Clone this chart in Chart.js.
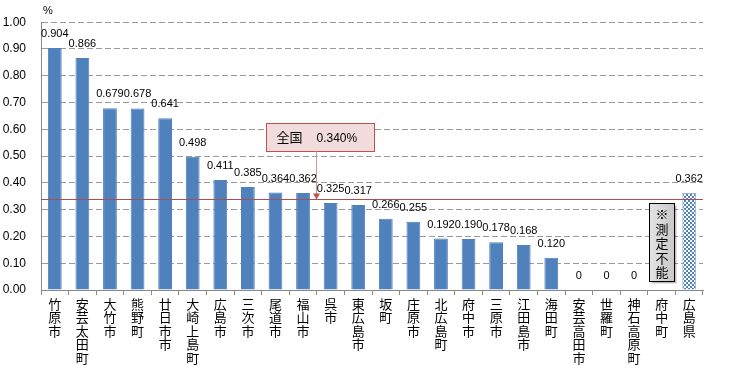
<!DOCTYPE html>
<html>
<head>
<meta charset="utf-8">
<script src="https://cdn.jsdelivr.net/npm/chart.js@4/dist/chart.umd.min.js"></script>
<style>
  body { margin: 0; background: #fff; }
  #wrap { width: 734px; height: 371px; }
</style>
</head>
<body>
<div id="wrap"><canvas id="rateChart" width="734" height="371"></canvas></div>
<script>
// 市町名
const towns = ['竹原市', '安芸太田町', '大竹市', '熊野町', '廿日市市', '大崎上島町', '広島市', '三次市',
  '尾道市', '福山市', '呉市', '東広島市', '坂町', '庄原市', '北広島町', '府中市', '三原市',
  '江田島市', '海田町', '安芸高田市', '世羅町', '神石高原町', '府中町', '広島県'];
// 値 (%)  府中町は測定不能
const rates = [0.904, 0.866, 0.679, 0.678, 0.641, 0.498, 0.411, 0.385, 0.364, 0.362, 0.325, 0.317,
  0.266, 0.255, 0.192, 0.190, 0.178, 0.168, 0.120, 0, 0, 0, null, 0.362];
const rateLabels = ['0.904', '0.866', '0.679', '0.678', '0.641', '0.498', '0.411', '0.385', '0.364', '0.362',
  '0.325', '0.317', '0.266', '0.255', '0.192', '0.190', '0.178', '0.168', '0.120', '0', '0', '0', '', '0.362'];
const nationalRate = 0.340;
const yTicks = [0, 0.1, 0.2, 0.3, 0.4, 0.5, 0.6, 0.7, 0.8, 0.9, 1.0];

const numFont = '"Liberation Sans", Arial, sans-serif';
const jpFont = '"Noto Sans CJK JP", sans-serif';

// checkered fill for the prefecture bar
function makeChecker() {
  const c = document.createElement('canvas');
  c.width = 4; c.height = 4;
  const g = c.getContext('2d');
  g.fillStyle = '#ffffff';
  g.fillRect(0, 0, 4, 4);
  g.fillStyle = '#4F81BD';
  g.fillRect(0, 0, 2, 2);
  g.fillRect(2, 2, 2, 2);
  return g.createPattern(c, 'repeat');
}
const checker = makeChecker();

const barColors = towns.map((t, i) => i === towns.length - 1 ? checker : '#4F81BD');
const borderColors = towns.map((t, i) => i === towns.length - 1 ? '#95B3D7' : '#4F81BD');

// labels, reference line, callouts
const extrasPlugin = {
  id: 'extras',
  afterDatasetsDraw(chart) {
    const { ctx, chartArea, scales } = chart;
    const x = scales.x, y = scales.y;
    ctx.save();

    // value labels
    ctx.font = '11px ' + numFont;
    ctx.fillStyle = '#000';
    ctx.textAlign = 'center';
    ctx.textBaseline = 'middle';
    rates.forEach((v, i) => {
      if (v === null) return;
      ctx.fillText(rateLabels[i], x.getPixelForValue(i), y.getPixelForValue(v) - 14);
    });

    // % unit
    ctx.font = '11px ' + numFont;
    ctx.fillText('%', 48, 11);

    // national reference line
    const ly = Math.round(y.getPixelForValue(nationalRate)) + 0.5;
    ctx.strokeStyle = '#A9504E';
    ctx.lineWidth = 1;
    ctx.beginPath();
    ctx.moveTo(chartArea.left, ly);
    ctx.lineTo(chartArea.right, ly);
    ctx.stroke();

    // callout box
    const ax = Math.round((x.getPixelForValue(9) + x.getPixelForValue(10)) / 2) - 0.5;
    const bx = 266.5, bw = 108, bh = 28;
    const by = ly - 76;
    ctx.fillStyle = '#F2DCDB';
    ctx.fillRect(bx, by, bw, bh);
    ctx.strokeStyle = '#C0504D';
    ctx.strokeRect(bx, by, bw, bh);
    ctx.strokeStyle = '#D29896';
    ctx.beginPath();
    ctx.moveTo(ax, by + bh);
    ctx.lineTo(ax, ly - 4);
    ctx.stroke();
    ctx.fillStyle = '#C0504D';
    ctx.beginPath();
    ctx.moveTo(ax - 3.5, ly - 6);
    ctx.lineTo(ax + 3.5, ly - 6);
    ctx.lineTo(ax, ly);
    ctx.closePath();
    ctx.fill();
    ctx.fillStyle = '#000';
    ctx.textAlign = 'left';
    ctx.font = '13px ' + jpFont;
    ctx.fillText('全国', bx + 10, by + bh / 2);
    ctx.font = '12px ' + numFont;
    ctx.fillText('0.340%', bx + 50, by + bh / 2 + 1);

    // not measurable box
    const nx = Math.round(x.getPixelForValue(22)) - 12.5;
    const nw = 25, nh = 78;
    const ny = Math.round(y.getPixelForValue(0)) - 86.5;
    ctx.fillStyle = 'rgba(0,0,0,0.25)';
    ctx.fillRect(nx + 2, ny + 2, nw, nh);
    const grad = ctx.createLinearGradient(nx, ny, nx + nw, ny);
    grad.addColorStop(0, '#E4E4E4');
    grad.addColorStop(1, '#C8C8C8');
    ctx.fillStyle = grad;
    ctx.fillRect(nx, ny, nw, nh);
    ctx.strokeStyle = '#000';
    ctx.strokeRect(nx, ny, nw, nh);
    ctx.fillStyle = '#000';
    ctx.textAlign = 'center';
    ctx.font = '13px ' + jpFont;
    ['※', '測', '定', '不', '能'].forEach((ch, k) => {
      ctx.fillText(ch, nx + nw / 2, ny + 11 + k * 14.5);
    });

    ctx.restore();
  }
};

new Chart(document.getElementById('rateChart'), {
  type: 'bar',
  data: {
    labels: towns.map(t => t.split('')),
    datasets: [{
      data: rates,
      backgroundColor: barColors,
      borderColor: borderColors,
      borderWidth: 1,
      barPercentage: 0.5,
      categoryPercentage: 1.0
    }]
  },
  options: {
    responsive: false,
    animation: false,
    layout: { padding: { top: 22, right: 31, left: 0, bottom: 0 } },
    plugins: {
      legend: { display: false },
      tooltip: { enabled: false }
    },
    scales: {
      x: {
        grid: { offset: true, drawOnChartArea: false, tickLength: 5, color: '#888' },
        border: { color: '#888' },
        ticks: {
          maxRotation: 0, minRotation: 0, autoSkip: false, padding: 2,
          color: '#000',
          font: { family: jpFont, size: 13, lineHeight: 1.04 }
        },
        afterFit(s) { s.height = 81; }
      },
      y: {
        min: 0, max: 1,
        afterBuildTicks(s) { s.ticks = yTicks.map(v => ({ value: v })); },
        grid: { color: '#9A9A9A', drawTicks: false },
        border: { color: '#888', dash: [6, 3] },
        ticks: {
          padding: 15, color: '#000',
          font: { family: numFont, size: 12 },
          callback: v => v.toFixed(2)
        },
        afterFit(s) { s.width = 41; }
      }
    }
  },
  plugins: [extrasPlugin]
});
</script>
</body>
</html>
